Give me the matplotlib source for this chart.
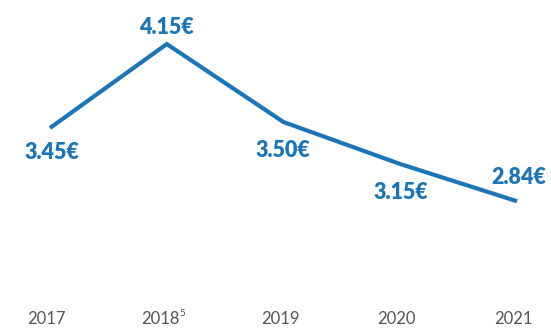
import matplotlib
matplotlib.use("Agg")
import matplotlib.pyplot as plt
import matplotlib.transforms as mtransforms

years = ["2017", "2018", "2019", "2020", "2021"]
year_notes = ["", "5", "", "", ""]
values = [3.45, 4.15, 3.50, 3.15, 2.84]
value_labels = ["3.45€", "4.15€", "3.50€", "3.15€", "2.84€"]

# label centre relative to each point, in pixels (dx, dy)
label_offsets = [(2, -22), (0, 19), (-1, -26), (1, -26), (2, 26)]

blue = "#1c75b7"
grey = "#555555"

fig = plt.figure(figsize=(5.51, 3.30), dpi=100)
ax = fig.add_axes([0, 0, 1, 1])
ax.set_axis_off()

x = list(range(len(years)))
ax.plot(x, values, color=blue, linewidth=3.0, solid_capstyle="butt",
        solid_joinstyle="miter")

ax.set_xlim(-0.428, 4.291)
ax.set_ylim(1.767, 4.517)

for xi, v, lab, (dx, dy) in zip(x, values, value_labels, label_offsets):
    ax.annotate(lab, (xi, v), xytext=(dx * 0.72, dy * 0.72),
                textcoords="offset points", ha="center", va="center_baseline",
                fontsize=15.5, fontweight="heavy", family="Lato", color=blue)

trans = mtransforms.blended_transform_factory(ax.transData, ax.transAxes)
for xi, yr, note in zip(x, years, year_notes):
    t = ax.text(xi - (0.05 if note else 0.03), 0.018, yr, transform=trans,
                ha="center", va="baseline", fontsize=12, family="Lato",
                color=grey)
    if note:
        # small footnote marker raised after the year
        ax.annotate(note, (xi - 0.05, 0.018), xycoords=trans,
                    xytext=(13.5, 5.5), textcoords="offset points",
                    ha="left", va="baseline", fontsize=7, family="Lato",
                    color=grey)

fig.savefig("out.png", dpi=100, facecolor="white")
